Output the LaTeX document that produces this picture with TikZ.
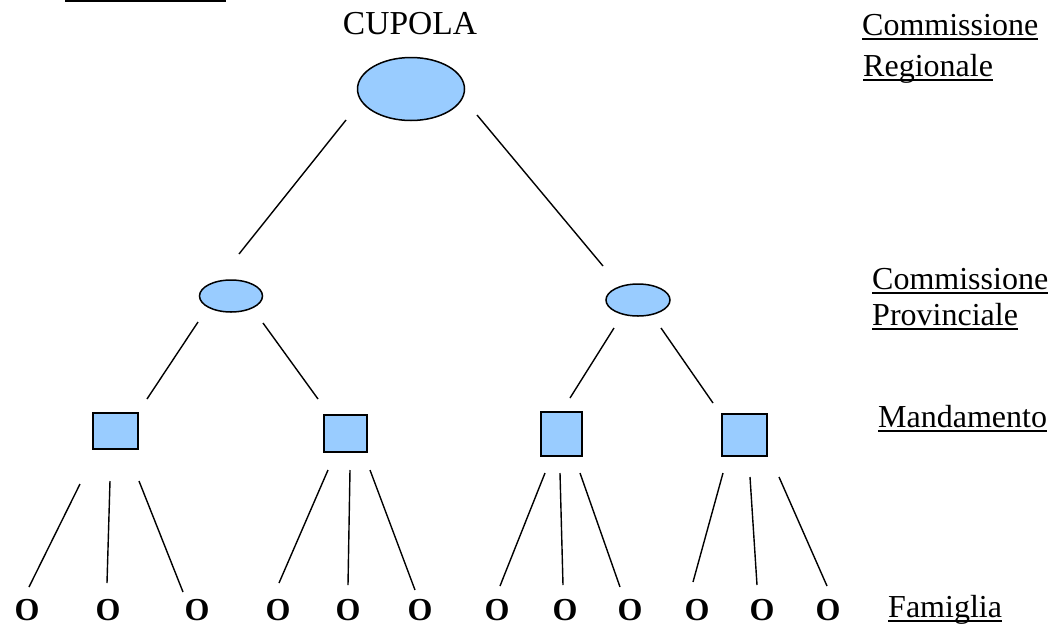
\documentclass[tikz,border=0pt]{standalone}
\usepackage{fontspec}
\setmainfont{Liberation Serif}
\usetikzlibrary{shapes.geometric}
\definecolor{fillblue}{HTML}{99CCFF}
\begin{document}
\begin{tikzpicture}[x=1pt,y=-1pt,
  lbl/.style={inner sep=0pt, anchor=base west, font=\fontsize{32}{38}\selectfont},
  ell/.style={ellipse, draw, line width=1.5pt, fill=fillblue, inner sep=0pt},
  sq/.style={rectangle, draw, line width=1.5pt, fill=fillblue, inner sep=0pt},
  conn/.style={line width=1.4pt},
  fam/.style={inner sep=0pt, anchor=base, font=\fontsize{32}{38}\selectfont\bfseries},
  ul/.style={line width=1.6pt}]
\useasboundingbox (0,0) rectangle (1049,627);

% clipped underline at top left
\coordinate (tl1) at (65,1);
\coordinate (tl2) at (226,1);
\draw[line width=2pt] (tl1) -- (tl2);

% title
\node[inner sep=0pt, anchor=base, font=\fontsize{33.5}{40}\selectfont] (title) at (410,34) {CUPOLA};

% right-hand labels
\node[lbl] (cr1) at (862,35) {Commissione};
\node[lbl] (cr2) at (863,76) {Regionale};
\node[lbl] (cp1) at (872,289) {Commissione};
\node[lbl] (cp2) at (872,325) {Provinciale};
\node[lbl] (man) at (878,427) {Mandamento};
\node[lbl] (fam) at (888,617) {Famiglia};
\foreach \n in {cr1,cr2,cp1,cp2,man,fam}
  \draw[ul] ([yshift=-4pt]\n.base west) -- ([yshift=-4pt]\n.base east);

% shapes
\node[ell, minimum width=107, minimum height=63] (cupola) at (411,89) {};
\node[ell, minimum width=63, minimum height=32] (cpL) at (231,296) {};
\node[ell, minimum width=64, minimum height=32] (cpR) at (638,300) {};
\node[sq, minimum width=45, minimum height=36] (m1) at (115.5,431) {};
\node[sq, minimum width=43, minimum height=37] (m2) at (345.5,433.5) {};
\node[sq, minimum width=41, minimum height=44] (m3) at (561.5,434) {};
\node[sq, minimum width=45, minimum height=42] (m4) at (744.5,435) {};

% families
\foreach \x [count=\i] in {27,108,197,278,348,420,497,565,630,697,762,828}
  \node[fam] (f\i) at (\x,620) {O};

% connectors (free ends as named coordinates)
\coordinate (a1) at (346,120); \coordinate (a2) at (239,254);
\coordinate (b1) at (477,115); \coordinate (b2) at (603,266);
\draw[conn] (a1) -- (a2);
\draw[conn] (b1) -- (b2);

\coordinate (c1) at (198,322); \coordinate (c2) at (147,399);
\coordinate (d1) at (263,323); \coordinate (d2) at (318,399);
\coordinate (e1) at (614,328); \coordinate (e2) at (570,398);
\coordinate (g1) at (661,328); \coordinate (g2) at (713,403);
\draw[conn] (c1) -- (c2);
\draw[conn] (d1) -- (d2);
\draw[conn] (e1) -- (e2);
\draw[conn] (g1) -- (g2);

% mandamento -> famiglia
\foreach \sx/\sy/\ex/\ey [count=\i] in {
  80/484/29/587, 110/481/107/583, 139/481/183/592,
  328/470/279/583, 350/470/348/585, 370/470/415/590,
  545/473/500/586, 560/473/563/585, 580/473/620/587,
  723/473/693/582, 750/477/757/585, 779/477/827/586}{
  \coordinate (s\i) at (\sx,\sy);
  \coordinate (t\i) at (\ex,\ey);
  \draw[conn] (s\i) -- (t\i);
}
\end{tikzpicture}
\end{document}
